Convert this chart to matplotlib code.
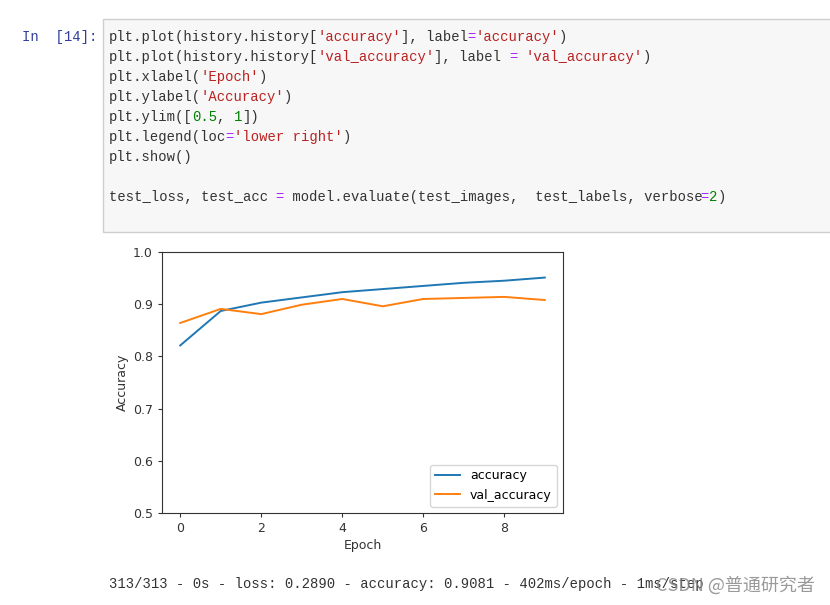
import matplotlib
matplotlib.use("Agg")
import matplotlib.pyplot as plt
from matplotlib.patches import Rectangle

# ---- data ----
epochs = [0, 1, 2, 3, 4, 5, 6, 7, 8, 9]
accuracy = [0.821, 0.887, 0.903, 0.913, 0.923, 0.929, 0.935, 0.941, 0.945, 0.951]
val_accuracy = [0.864, 0.891, 0.881, 0.899, 0.910, 0.896, 0.910, 0.912, 0.914, 0.908]
series_labels = ['accuracy', 'val_accuracy']
yticks = [0.5, 0.6, 0.7, 0.8, 0.9, 1.0]
xticks = [0, 2, 4, 6, 8]

K, S, P, N = '#333333', '#BA2121', '#AA22FF', '#008000'
code_lines = [
    [("plt.plot(history.history[", K), ("'accuracy'", S), ("], label", K), ("=", P), ("'accuracy'", S), (")", K)],
    [("plt.plot(history.history[", K), ("'val_accuracy'", S), ("], label ", K), ("=", P), (" ", K), ("'val_accuracy'", S), (")", K)],
    [("plt.xlabel(", K), ("'Epoch'", S), (")", K)],
    [("plt.ylabel(", K), ("'Accuracy'", S), (")", K)],
    [("plt.ylim([", K), ("0.5", N), (", ", K), ("1", N), ("])", K)],
    [("plt.legend(loc", K), ("=", P), ("'lower right'", S), (")", K)],
    [("plt.show()", K)],
    [],
    [("test_loss, test_acc ", K), ("=", P), (" model.evaluate(test_images,  test_labels, verbose", K), ("=", P), ("2", N), (")", K)],
]
output_text = "313/313 - 0s - loss: 0.2890 - accuracy: 0.9081 - 402ms/epoch - 1ms/step"
prompt_text = "In  [14]:"
watermark = "CSDN @普通研究者"

W, H = 830, 605
fig = plt.figure(figsize=(W / 100, H / 100), dpi=100)
fig.patch.set_facecolor('white')

def fx(x):
    return x / W

def fy(y):
    return 1 - y / H

# code cell box
fig.patches.append(Rectangle((fx(103), fy(232)), fx(740), (232 - 19) / H,
                             transform=fig.transFigure, facecolor='#f7f7f7',
                             edgecolor='#cfcfcf', linewidth=1.0))

mono = 'Liberation Mono'
fs = 10
cw = 0.6 * fs * 100 / 72  # char width in px
fig.text(fx(22), fy(37), prompt_text, family=mono, fontsize=fs, color='#303F9F', va='center')
for i, line in enumerate(code_lines):
    y = 37 + 20 * i
    col = 0
    for tok, c in line:
        fig.text(fx(109 + col * cw), fy(y), tok, family=mono, fontsize=fs, color=c, va='center')
        col += len(tok)

fig.text(fx(109), fy(584), output_text, family=mono, fontsize=fs, color='#333333', va='center')
fig.text(fx(815), fy(585), watermark, family=['Noto Sans CJK SC', 'DejaVu Sans'],
         fontsize=13, color='#888888', alpha=0.85, ha='right', va='center')

# chart
ax = fig.add_axes([162 / W, 1 - 513 / H, (563 - 162) / W, (513 - 252) / H])
ax.plot(epochs, accuracy, label=series_labels[0], color='#1f77b4', lw=1.4)
ax.plot(epochs, val_accuracy, label=series_labels[1], color='#ff7f0e', lw=1.4)
ax.set_ylim(0.5, 1)
ax.set_yticks(yticks)
ax.set_xticks(xticks)
ax.tick_params(labelsize=9, length=3, width=0.8, colors='#333333')
ax.set_xlabel('Epoch', fontsize=9, color='#333333', labelpad=3)
ax.set_ylabel('Accuracy', fontsize=9, color='#333333', labelpad=3)
for sp in ax.spines.values():
    sp.set_color('#333333')
    sp.set_linewidth(0.8)
ax.legend(loc='lower right', fontsize=9)

fig.savefig('out.png', dpi=100)
